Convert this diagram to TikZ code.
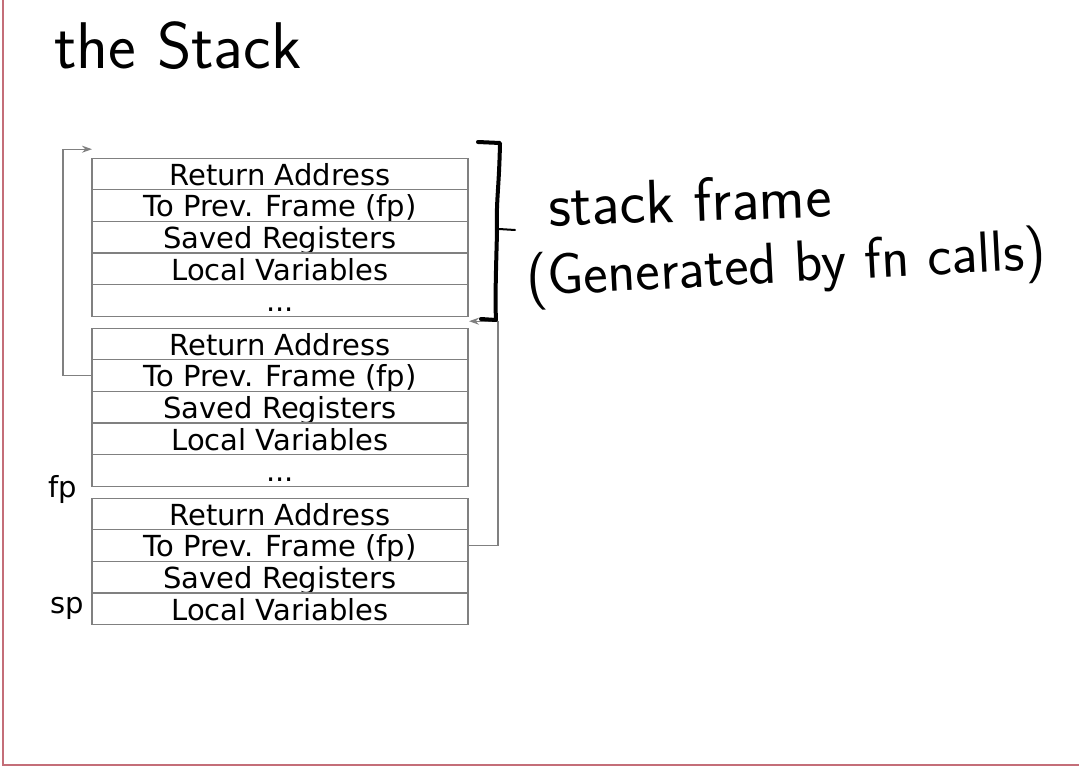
\documentclass[tikz,border=0pt]{standalone}
\usepackage{fontspec}
\setmainfont{DejaVu Sans}
\newfontfamily\handfont{Latin Modern Sans}
\usetikzlibrary{arrows.meta,positioning}

\definecolor{cellgray}{RGB}{128,128,128}
\definecolor{pageedge}{RGB}{196,110,120}

\begin{document}
\begin{tikzpicture}[
  x=1pt, y=-1pt,
  cell/.style={draw=cellgray, line width=1.2pt, minimum width=376pt, minimum height=31.6pt,
    text height=27pt, text depth=4.6pt, inner sep=0pt, outer sep=0pt,
    font=\fontsize{29}{34}\selectfont},
  lbl/.style={font=\fontsize{29}{34}\selectfont, inner sep=2pt},
  hand/.style={font=\handfont\fontsize{58}{64}\selectfont, inner sep=0pt},
  link/.style={draw=cellgray, line width=1.2pt, -{Stealth[length=10pt,width=7pt]}},
  >=Stealth
]
  \useasboundingbox (0,0) rectangle (1079,768);
  \draw[pageedge, line width=1.5pt] (3,0) -- (3,765) -- (1079,765);

  % calling frame
  \node[cell] (f1ret) at (280,174) {Return Address};
  \node[cell, below=0pt of f1ret]  (f1prev) {To Prev. Frame (fp)};
  \node[cell, below=0pt of f1prev] (f1save) {Saved Registers};
  \node[cell, below=0pt of f1save] (f1loc)  {Local Variables};
  \node[cell, below=0pt of f1loc]  (f1dots) {...};

  % middle frame
  \node[cell, below=12pt of f1dots] (f2ret) {Return Address};
  \node[cell, below=0pt of f2ret]  (f2prev) {To Prev. Frame (fp)};
  \node[cell, below=0pt of f2prev] (f2save) {Saved Registers};
  \node[cell, below=0pt of f2save] (f2loc)  {Local Variables};
  \node[cell, below=0pt of f2loc]  (f2dots) {...};

  % current frame
  \node[cell, below=12pt of f2dots] (f3ret) {Return Address};
  \node[cell, below=0pt of f3ret]  (f3prev) {To Prev. Frame (fp)};
  \node[cell, below=0pt of f3prev] (f3save) {Saved Registers};
  \node[cell, below=0pt of f3save] (f3loc)  {Local Variables};

  \node[lbl] (fp) at (63,489) {fp};
  \node[lbl, left=6pt of f3loc] (sp) {sp};

  % frame pointer chain
  \draw[link] (f2prev.west) -- ++(-29,0) |- ([yshift=9pt]f1ret.north west);
  \draw[link] (f3prev.east) -- ++(30,0) |- ([yshift=-5pt,xshift=1pt]f1dots.south east);

  % hand-drawn bracket
  \draw[line width=4pt, line cap=round, line join=round]
    (478,142) -- (500,143) .. controls (499,190) and (496,200) .. (497,232)
    .. controls (496,270) and (495,300) .. (496,320) -- (481,319);
  \draw[line width=2pt, line cap=round] (499,229) -- (515,230);

  \node[hand, font=\handfont\fontsize{66}{72}\selectfont] (title) at (178,46) {the Stack};
  \node[hand, rotate=2, font=\handfont\fontsize{62}{68}\selectfont] (frm) at (690,200) {stack frame};
  \node[hand, rotate=3] (gen) at (786,268) {(Generated by fn calls)};
\end{tikzpicture}
\end{document}
